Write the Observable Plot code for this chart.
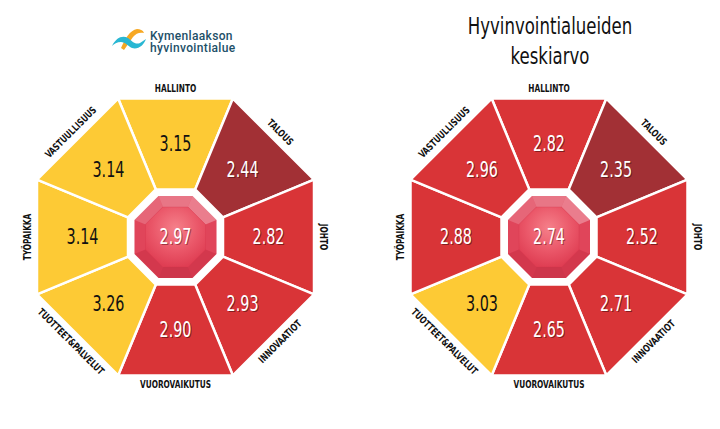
<!DOCTYPE html>
<html><head><meta charset="utf-8">
<script src="https://cdn.jsdelivr.net/npm/d3@7"></script>
<script src="https://cdn.jsdelivr.net/npm/@observablehq/plot@0.6"></script>
<style>
body{margin:0;background:#fff;}
#wrap{position:relative;width:720px;height:429px;overflow:hidden;background:#fff;}
#chart{position:absolute;left:0;top:0;}
#title{position:absolute;left:420px;width:260px;top:11px;text-align:center;font-family:"DejaVu Sans Condensed","Liberation Sans Narrow",sans-serif;font-size:23px;line-height:30px;color:#111;transform:scaleX(0.8);transform-origin:130px 0;}
#logo{position:absolute;left:110px;top:25px;width:140px;height:30px;}
.lt{position:absolute;left:40px;font-family:Roboto,"Open Sans",sans-serif;font-weight:500;font-size:12px;line-height:12px;letter-spacing:0.35px;color:#1d5068;white-space:nowrap;}
</style></head><body>
<div id="wrap">
  <div id="chart"></div>
  <div id="logo">
    <svg width="40" height="30" viewBox="0 0 40 30" style="position:absolute;left:0;top:0">
      <path d="M11 23 C15 14, 20 5, 27 4 C30 4, 33 5, 34 8 C30 7, 26 8, 23 12 C20 16, 17 21, 14 25 Z" fill="#f7a823"/>
      <path d="M2 21 C6 13, 12 10, 18 13 C22 16, 25 20, 30 18 C32 17, 34 15, 36 14 C34 20, 28 25, 22 23 C18 21, 15 17, 11 17 C7 17, 4 19, 2 21 Z" fill="#29b7d3"/>
    </svg>
    <div class="lt" style="top:5px">Kymenlaakson</div>
    <div class="lt" style="top:17px">hyvinvointialue</div>
  </div>
  <div id="title">Hyvinvointialueiden<br>keskiarvo</div>
</div>
<script>
// ---- data ----
const categories = ["HALLINTO", "TALOUS", "JOHTO", "INNOVAATIOT", "VUOROVAIKUTUS", "TUOTTEET&PALVELUT", "TYÖPAIKKA", "VASTUULLISUUS"];
const kymenlaakso = [3.15, 2.44, 2.82, 2.93, 2.90, 3.26, 3.14, 3.14];
const keskiarvo   = [2.82, 2.35, 2.52, 2.71, 2.65, 3.03, 2.88, 2.96];
const overall     = [2.97, 2.74];
const panels      = ["Kymenlaakson hyvinvointialue", "Hyvinvointialueiden keskiarvo"];
const thresholds  = [2.5, 3.0];

// ---- layout ----
const W = 720, H = 429;
const centersX = [175, 548.5], centerY = 236.5;
const aOut = 138.5, aIn = 47.5, aGem = 41, aFacet = 30, aLabel = 148, aValue = 93;
const k225 = Math.cos(Math.PI / 8);
const rad = d => d * Math.PI / 180;
const series = [kymenlaakso, keskiarvo];

const segPts = [], valueRows = [], labelRows = [], gemPts = [], facetPts = [], innerPts = [], gemVals = [];
panels.forEach((p, pi) => {
  const cx = centersX[pi];
  series[pi].forEach((v, k) => {
    const th = -90 + 45 * k;
    const corners = [[aOut, th - 22.5], [aOut, th + 22.5], [aIn, th + 22.5], [aIn, th - 22.5]];
    corners.forEach(([a, t]) => {
      const r = a / k225;
      segPts.push({id: pi + "-" + k, value: v, x: cx + r * Math.cos(rad(t)), y: centerY + r * Math.sin(rad(t))});
    });
    const f = k % 2 ? 1.02 : 1;
    valueRows.push({value: v, x: cx + aValue * f * Math.cos(rad(th)), y: centerY + aValue * f * Math.sin(rad(th))});
    const rot = (k >= 3 && k <= 5) ? th - 90 : th + 90;
    labelRows.push({text: categories[k], x: cx + aLabel * Math.cos(rad(th)), y: centerY + aLabel * Math.sin(rad(th)), rot: ((rot + 180) % 360) - 180});
    const fc = [[aGem, th - 22.5], [aGem, th + 22.5], [aFacet, th + 22.5], [aFacet, th - 22.5]];
    const shade = [0.30, 0.34, 0.05, -0.05, -0.08, -0.05, 0.05, 0.22][k];
    fc.forEach(([a, t]) => {
      const r = a / k225;
      facetPts.push({id: pi + "-" + k, shade, x: cx + r * Math.cos(rad(t)), y: centerY + r * Math.sin(rad(t))});
    });
  });
  for (let j = 0; j < 8; j++) {
    const t = -90 - 22.5 + 45 * j;
    gemPts.push({id: pi, x: cx + (aGem / k225) * Math.cos(rad(t)), y: centerY + (aGem / k225) * Math.sin(rad(t))});
    innerPts.push({id: pi, x: cx + (aFacet / k225) * Math.cos(rad(t)), y: centerY + (aFacet / k225) * Math.sin(rad(t))});
  }
  gemVals.push({value: overall[pi], x: cx, y: centerY});
});

function defs() {
  const g = d3.create("svg:defs");
  const rg = g.append("radialGradient").attr("id", "gemInner").attr("cx", "50%").attr("cy", "35%").attr("r", "65%");
  rg.append("stop").attr("offset", "0%").attr("stop-color", "#f5808a");
  rg.append("stop").attr("offset", "60%").attr("stop-color", "#ea5668");
  rg.append("stop").attr("offset", "100%").attr("stop-color", "#df3e53");
  return g.node();
}

const fontNarrow = "'DejaVu Sans Condensed', 'Liberation Sans Narrow', sans-serif";
const isLight = d => d.value >= thresholds[1];
const fmt = d => d.value.toFixed(2);
const zero = () => 0;
const VS = 21, LS = 10;

const chart = Plot.plot({
  width: W, height: H,
  margin: 0,
  x: {domain: [0, W], axis: null},
  y: {domain: [H, 0], axis: null},
  color: {type: "threshold", domain: thresholds, range: ["#a23035", "#d93437", "#fdca35"]},
  opacity: {type: "identity"},
  style: {background: "white"},
  marks: [
    defs,
    Plot.line(segPts, {x: "x", y: "y", z: "id", fill: "value", stroke: "white", strokeWidth: 2.5, strokeLinejoin: "miter", curve: "linear-closed"}),
    Plot.line(gemPts, {x: "x", y: "y", z: "id", fill: "#df3b52", stroke: "none", curve: "linear-closed"}),
    Plot.line(facetPts.filter(d => d.shade > 0), {x: "x", y: "y", z: "id", fill: "white", fillOpacity: "shade", stroke: "none", curve: "linear-closed"}),
    Plot.line(facetPts.filter(d => d.shade < 0), {x: "x", y: "y", z: "id", fill: "black", fillOpacity: d => -d.shade, stroke: "none", curve: "linear-closed"}),
    Plot.line(innerPts, {x: "x", y: "y", z: "id", fill: "url(#gemInner)", stroke: "#d8364c", strokeOpacity: 0.35, strokeWidth: 0.8, curve: "linear-closed"}),
    Plot.text(valueRows.filter(d => !isLight(d)), {x: "x", y: "y", dx: 1, dy: 1.2, text: fmt, rotate: zero, fill: "#3a0a0a", fillOpacity: 0.55, fontSize: VS, fontFamily: fontNarrow}),
    Plot.text(gemVals, {x: "x", y: "y", dx: 1, dy: 1.2, text: fmt, rotate: zero, fill: "#5a0a14", fillOpacity: 0.5, fontSize: VS, fontFamily: fontNarrow}),
    Plot.text(valueRows.filter(d => !isLight(d)), {x: "x", y: "y", text: fmt, rotate: zero, fill: "white", fontSize: VS, fontFamily: fontNarrow}),
    Plot.text(valueRows.filter(isLight), {x: "x", y: "y", text: fmt, rotate: zero, fill: "#111", fontSize: VS, fontFamily: fontNarrow}),
    Plot.text(gemVals, {x: "x", y: "y", text: fmt, rotate: zero, fill: "white", fontSize: VS, fontFamily: fontNarrow}),
    Plot.text(labelRows, {x: "x", y: "y", text: "text", rotate: "rot", fill: "#111", fontSize: LS, fontWeight: "bold", fontFamily: fontNarrow})
  ]
});
// narrow the glyphs horizontally (condensed look)
d3.select(chart).selectAll("text").each(function () {
  const fs = this.parentNode.getAttribute("font-size");
  const s = fs == String(VS) ? 0.76 : fs == String(LS) ? 0.82 : 1;
  const t = this.getAttribute("transform");
  if (t && s !== 1) this.setAttribute("transform", t + ` scale(${s},1)`);
});
document.getElementById("chart").appendChild(chart);
</script>
</body></html>
